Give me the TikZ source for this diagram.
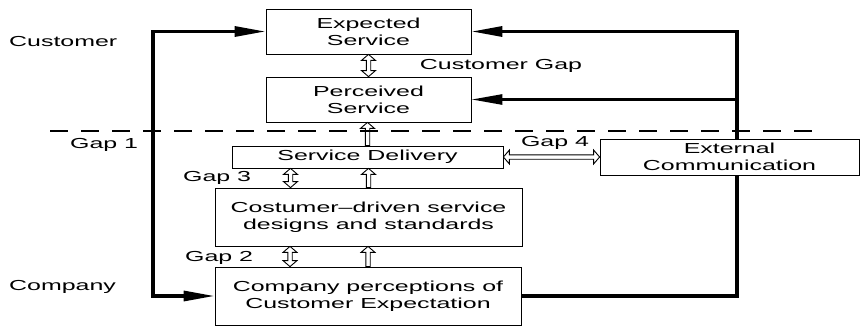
\documentclass[tikz,border=0pt]{standalone}
\usepackage{fontspec}
\setmainfont{Liberation Sans}[FakeStretch=1.72]
\usetikzlibrary{arrows.meta,calc,positioning}

\tikzset{
  box/.style={draw, line width=0.8pt, align=center, inner sep=0pt},
  lbl/.style={inner sep=0pt},
  bigline/.style={line width=3.2pt},
  bigarrow/.style={bigline, -{Triangle[length=31pt,width=10pt]}},
  % open fat arrow, head at the target
  hollow/.style={line width=0.9pt, to path={
    -- ($(\tikztostart)!2.2pt!90:(\tikztotarget)$)
    -- ($(\tikztotarget)!6pt!(\tikztostart)!2.2pt!-90:(\tikztostart)$)
    -- ($(\tikztotarget)!6pt!(\tikztostart)!7pt!-90:(\tikztostart)$)
    -- (\tikztotarget)
    -- ($(\tikztotarget)!6pt!(\tikztostart)!7pt!90:(\tikztostart)$)
    -- ($(\tikztotarget)!6pt!(\tikztostart)!2.2pt!90:(\tikztostart)$)
    -- ($(\tikztostart)!2.2pt!-90:(\tikztotarget)$)
    -- cycle}},
  % open fat arrow, heads at both ends
  hollowboth/.style={line width=0.9pt, to path={
    -- ($(\tikztostart)!6pt!(\tikztotarget)!7pt!90:(\tikztotarget)$)
    -- ($(\tikztostart)!6pt!(\tikztotarget)!2.2pt!90:(\tikztotarget)$)
    -- ($(\tikztotarget)!6pt!(\tikztostart)!2.2pt!-90:(\tikztostart)$)
    -- ($(\tikztotarget)!6pt!(\tikztostart)!7pt!-90:(\tikztostart)$)
    -- (\tikztotarget)
    -- ($(\tikztotarget)!6pt!(\tikztostart)!7pt!90:(\tikztostart)$)
    -- ($(\tikztotarget)!6pt!(\tikztostart)!2.2pt!90:(\tikztostart)$)
    -- ($(\tikztostart)!6pt!(\tikztotarget)!2.2pt!-90:(\tikztotarget)$)
    -- ($(\tikztostart)!6pt!(\tikztotarget)!7pt!-90:(\tikztotarget)$)
    -- cycle}}
}

\begin{document}
\begin{tikzpicture}[x=1pt,y=-1pt,font=\fontsize{14.5}{17}\selectfont]
  \useasboundingbox (0,0) rectangle (861,326);

  % boxes
  \node [box,minimum width=205pt,minimum height=45pt] at(368.5,31.5) (exp) {Expected\\Service};
  \node [box,minimum width=205pt,minimum height=45pt] at(368.5,99.5) (perc) {Perceived\\Service};
  \node [box,minimum width=271pt,minimum height=22pt] at(367.5,157) (deliv) {Service Delivery};
  \node [box,minimum width=259pt,minimum height=36pt] at(729.5,157) (ext) {External\\Communication};
  \node [box,minimum width=307pt,minimum height=58pt] at(368.5,217) (design) {Costumer--driven service\\designs and standards};
  \node [box,minimum width=306pt,minimum height=58pt] at(368,296) (comp) {Company perceptions of\\Customer Expectation};

  % labels
  \node [lbl,anchor=west] at(9,42) (l_cust) {Customer};
  \node [lbl,anchor=west] at(9,287) (l_comp) {Company};
  \node [lbl,anchor=west] at(70,145) (l_gap1) {Gap 1};
  \node [lbl] at(501,66) (l_custgap) {Customer Gap};
  \node [lbl] at(555,143) (l_gap4) {Gap 4};
  \node [lbl,anchor=west] at(183,178) (l_gap3) {Gap 3};
  \node [lbl,anchor=west] at(185,258) (l_gap2) {Gap 2};

  % customer / company border
  \draw [line width=2pt,dash pattern=on 18pt off 13pt] (50,131) -- (812,131);

  % thick loops
  \coordinate (left) at(153,0);
  \coordinate (right) at(737,0);
  \draw [bigarrow,{Triangle[length=31pt,width=10pt]}-{Triangle[length=31pt,width=10pt]}]
    (comp.west) -- (comp.west -| left) -- (exp.west -| left) -- (exp.west);
  \draw [bigarrow] (ext.north -| right) |- (exp.east);
  \draw [bigarrow,line width=2.6pt] (ext.north -| right) |- (perc.east);
  \draw [bigline] (comp.east) -| (ext.south -| right);

  % gaps
  \coordinate (gap3_bot) at([xshift=-78pt]design.north);
  \coordinate (gap3_top) at(gap3_bot |- deliv.south);
  \coordinate (gap2_bot) at([xshift=-78pt]comp.north);
  \coordinate (gap2_top) at(gap2_bot |- design.south);
  \draw [hollowboth] (exp.south) to (perc.north);
  \draw [hollow] (deliv.north) to (deliv.north |- perc.south);
  \draw [hollow] (design.north) to (design.north |- deliv.south);
  \draw [hollowboth] (gap3_bot) to (gap3_top);
  \draw [hollow] (comp.north) to (comp.north |- design.south);
  \draw [hollowboth] (gap2_bot) to (gap2_top);
  \draw [hollowboth] (deliv.east) to (deliv.east -| ext.west);
\end{tikzpicture}
\end{document}
